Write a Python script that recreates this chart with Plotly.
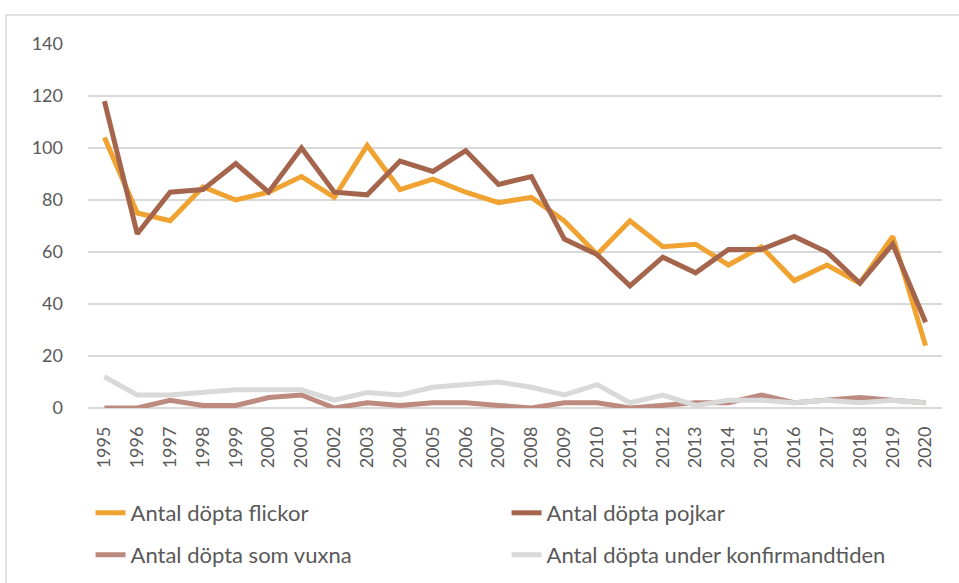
import plotly.graph_objects as go

years = [str(y) for y in range(1995, 2021)]
flickor = [104, 75, 72, 85, 80, 83, 89, 81, 101, 84, 88, 83, 79, 81, 72, 59, 72, 62, 63, 55, 62, 49, 55, 48, 66, 24]
pojkar = [118, 67, 83, 84, 94, 83, 100, 83, 82, 95, 91, 99, 86, 89, 65, 59, 47, 58, 52, 61, 61, 66, 60, 48, 63, 33]
vuxna = [0, 0, 3, 1, 1, 4, 5, 0, 2, 1, 2, 2, 1, 0, 2, 2, 0, 1, 2, 2, 5, 2, 3, 4, 3, 2]
konfirmand = [12, 5, 5, 6, 7, 7, 7, 3, 6, 5, 8, 9, 10, 8, 5, 9, 2, 5, 1, 3, 3, 2, 3, 2, 3, 2]
names = ["Antal döpta flickor", "Antal döpta pojkar", "Antal döpta som vuxna", "Antal döpta under konfirmandtiden"]
colors = ["#F0A330", "#A5654D", "#BC8A7E", "#D9D9D9"]
legends = ["legend", "legend", "legend2", "legend2"]

fig = go.Figure()
for vals, name, col, lg in zip([flickor, pojkar, vuxna, konfirmand], names, colors, legends):
    fig.add_trace(go.Scatter(x=years, y=vals, name=name, mode="lines",
                             line=dict(color=col, width=5), legend=lg))

font = dict(family="Lato, Liberation Sans, sans-serif", size=18, color="#595959")
leg_common = dict(orientation="h", x=0.003, xanchor="left", yanchor="middle",
                  entrywidth=371, entrywidthmode="pixels",
                  font=dict(family="Lato, Liberation Sans, sans-serif", size=22, color="#595959"),
                  bgcolor="rgba(0,0,0,0)")

fig.update_layout(
    width=959, height=583,
    margin=dict(l=88, r=17, t=44, b=175, autoexpand=False),
    paper_bgcolor="white", plot_bgcolor="white",
    font=font,
    showlegend=True,
    legend=dict(y=(408 - 513) / 364, **leg_common),
    legend2=dict(y=(408 - 555) / 364, **leg_common),
    xaxis=dict(type="category", range=[-0.5, 25.5], tickangle=-90, showgrid=False,
               showline=False, zeroline=False, ticks="", ticklabelstandoff=14,
               tickfont=font),
    yaxis=dict(range=[0, 140], dtick=20, showgrid=True, gridcolor="#D9D9D9", gridwidth=1.5,
               zeroline=True, zerolinecolor="#D9D9D9", zerolinewidth=1.5,
               showline=False, ticks="", ticklabelstandoff=24, tickfont=font),
    shapes=[dict(type="rect", xref="paper", yref="paper",
                 x0=(6 - 88) / 854, x1=1.2, y0=-0.8, y1=(408 - 15) / 364,
                 line=dict(color="#D9D9D9", width=1.5), fillcolor="rgba(0,0,0,0)", layer="below")],
)

fig.write_html("out.html", post_script="document.body.style.margin='0';",
               config={"displayModeBar": False})
